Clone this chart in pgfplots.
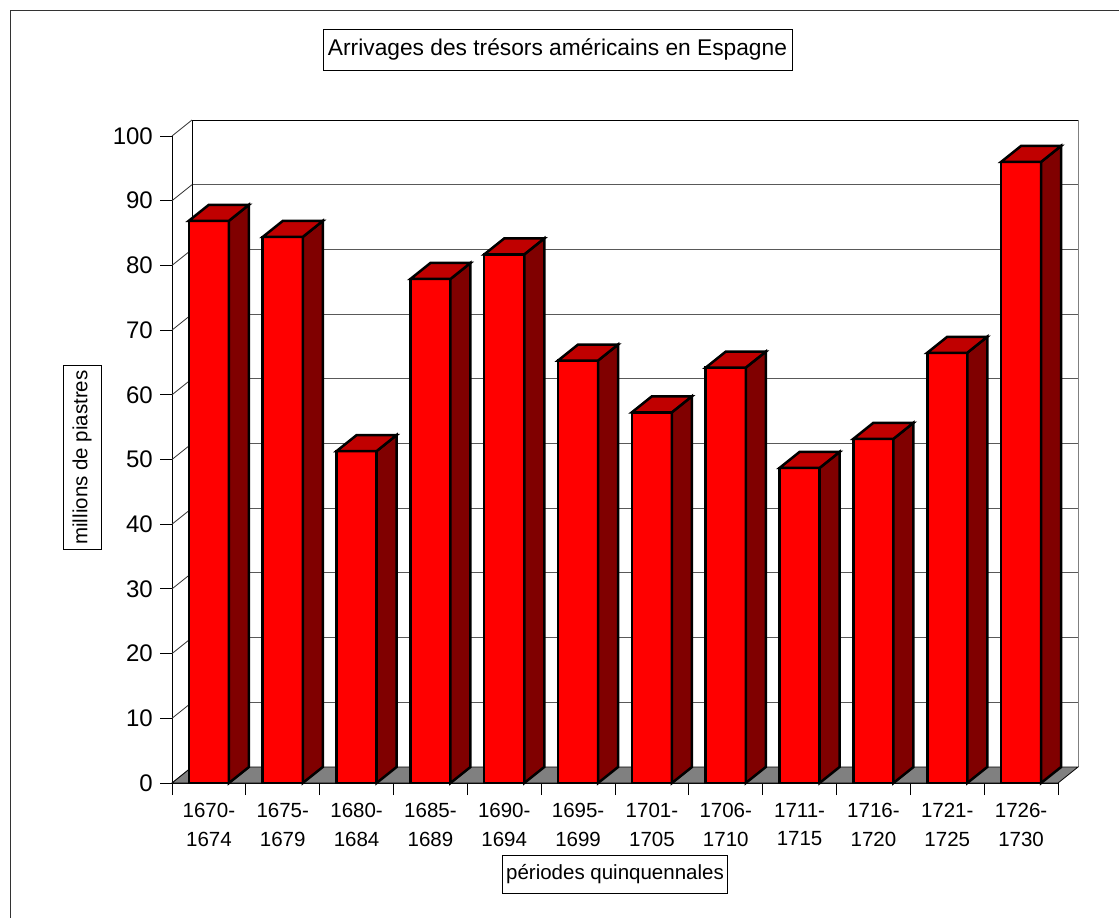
\documentclass[border=0pt]{standalone}
\usepackage{fontspec}
\setmainfont{Liberation Sans}
\usepackage{pgfplots}
\usepackage{pgfplotstable}
\pgfplotsset{compat=1.18}
\definecolor{barfront}{HTML}{FF0000}
\definecolor{barside}{HTML}{800000}
\definecolor{bartop}{HTML}{C00000}
\definecolor{floorgray}{HTML}{808080}

\pgfplotstableread{
x v
0 86.9
1 84.4
2 51.3
3 77.9
4 81.7
5 65.3
6 57.3
7 64.2
8 48.7
9 53.2
10 66.5
11 96.0
}\data

\begin{document}
\begin{tikzpicture}
\useasboundingbox (0pt,0pt) rectangle (1119pt,-918pt);
\draw[line width=1pt, black!80] (10pt,-10pt) rectangle (1150pt,-950pt);
\begin{axis}[
  at={(172pt,-783pt)}, anchor=south west, scale only axis,
  width=886pt, height=647pt,
  xmin=-0.5, xmax=11.5, ymin=0, ymax=100,
  clip=false, no markers,
  axis x line*=bottom, axis y line*=left,
  axis line style={black, line width=1pt},
  tick align=outside, major tick length=12pt,
  tick style={black, line width=1pt},
  xtick={-0.5,0.5,1.5,2.5,3.5,4.5,5.5,6.5,7.5,8.5,9.5,10.5,11.5},
  x tick label as interval,
  xticklabels={{1670-\\1674},{1675-\\1679},{1680-\\1684},{1685-\\1689},{1690-\\1694},{1695-\\1699},{1701-\\1705},{1706-\\1710},{1711-\\1715},{1716-\\1720},{1721-\\1725},{1726-\\1730}},
  xticklabel style={font=\fontsize{20.5}{28.5}\selectfont, align=center, inner sep=0pt, yshift=-8pt},
  ytick={0,10,...,100},
  yticklabel style={font=\fontsize{24}{28}\selectfont, inner sep=0pt, xshift=-7pt},
  /pgf/number format/assume math mode=true,
  ymajorgrids,
  major grid style={black!65, line width=1pt, xshift=20pt, yshift=16pt},
]
% back wall edges
\draw[black, line width=1pt] (axis cs:-0.229,2.473) -- (axis cs:-0.229,102.473) -- (axis cs:11.771,102.473);
\draw[black!50, line width=1pt] (axis cs:11.771,2.473) -- (axis cs:11.771,102.473);
\pgfplotsinvokeforeach{0,10,...,100}{
  \draw[black!80, line width=0.8pt] (axis cs:-0.5,#1) -- ++(20pt,16pt);
}
% floor
\addplot[fill=floorgray, draw=black, line width=0.8pt, forget plot]
  coordinates {(-0.5,0) (11.5,0) (11.771,2.473) (-0.229,2.473)} -- cycle;
% front faces
\addplot[ybar, bar width=0.542, fill=barfront, draw=black, line width=2.5pt, forget plot]
  table[x=x, y=v] {\data};
% side and top faces
\pgfplotsinvokeforeach{0,...,11}{
  \pgfplotstablegetelem{#1}{v}\of\data
  \pgfmathsetmacro\yv{\pgfplotsretval}
  \pgfmathsetmacro\yt{\pgfplotsretval+2.473}
  \pgfmathsetmacro\xa{#1-0.271}
  \pgfmathsetmacro\xb{#1+0.271}
  \pgfmathsetmacro\xc{#1+0.542}
  \pgfmathsetmacro\xd{#1}
  \edef\doit{%
    \noexpand\addplot[fill=barside, draw=black, line width=2.5pt, forget plot]
      coordinates {(\xb,0) (\xc,2.473) (\xc,\yt) (\xb,\yv)} -- cycle;
    \noexpand\addplot[fill=bartop, draw=black, line width=2.5pt, forget plot]
      coordinates {(\xa,\yv) (\xb,\yv) (\xc,\yt) (\xd,\yt)} -- cycle;
  }%
  \doit
}
\end{axis}
\node[draw, line width=0.8pt, inner xsep=5pt, inner ysep=0pt, minimum height=41pt,
  font=\fontsize{22.75}{27}\selectfont] at (557.5pt,-49.5pt)
  {Arrivages des trésors américains en Espagne};
\node[draw, line width=0.8pt, inner xsep=4pt, inner ysep=0pt, minimum height=38pt,
  font=\fontsize{20.5}{24}\selectfont] at (615pt,-874pt)
  {périodes quinquennales};
\node[draw, line width=0.8pt, rotate=90, inner xsep=5pt, inner ysep=0pt, minimum height=38pt,
  font=\fontsize{20.5}{24}\selectfont] at (82pt,-457.5pt)
  {millions de piastres};
\end{tikzpicture}
\end{document}
